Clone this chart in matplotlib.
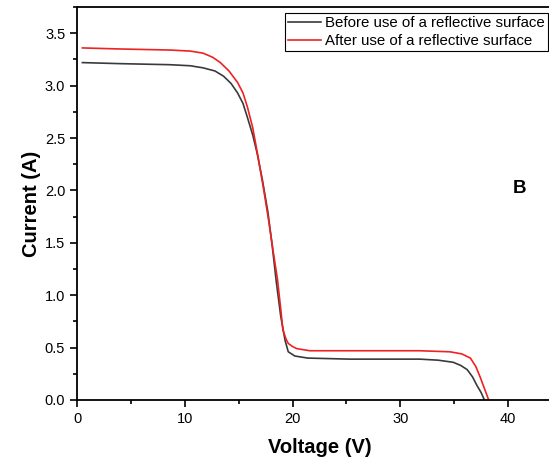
import numpy as np
import matplotlib.pyplot as plt
from matplotlib.ticker import MultipleLocator

plt.rcParams['font.family'] = ['Liberation Sans', 'DejaVu Sans']

# I-V curve before reflective surface
v_before = [0.5, 4, 8.6, 10.5, 11.7, 12.8, 13.6, 14.3, 14.9, 15.4, 15.8, 16.3, 16.7, 17.2, 17.7,
            18.1, 18.5, 18.9, 19.3, 19.6, 20.2, 21.4, 25.3, 30, 31.8, 33.5, 34.9, 35.6, 36.2,
            36.7, 37.1, 37.5, 37.8]
i_before = [3.22, 3.21, 3.20, 3.19, 3.17, 3.14, 3.09, 3.02, 2.93, 2.83, 2.70, 2.53, 2.36, 2.10,
            1.80, 1.48, 1.12, 0.80, 0.57, 0.46, 0.42, 0.40, 0.39, 0.39, 0.39, 0.38, 0.36, 0.33,
            0.29, 0.22, 0.14, 0.07, 0.0]

# I-V curve after reflective surface
v_after = [0.5, 4, 8.6, 10.5, 11.7, 12.6, 13.3, 14.1, 14.9, 15.4, 15.8, 16.3, 16.8, 17.3, 17.8,
           18.2, 18.6, 18.9, 19.1, 19.4, 19.6, 20.0, 20.4, 21.6, 25, 30, 31.8, 34.6, 35.7,
           36.5, 37.0, 37.4, 37.8, 38.2]
i_after = [3.36, 3.35, 3.34, 3.33, 3.31, 3.27, 3.22, 3.14, 3.03, 2.93, 2.80, 2.60, 2.32, 2.02,
           1.70, 1.42, 1.15, 0.87, 0.67, 0.58, 0.54, 0.51, 0.49, 0.47, 0.47, 0.47, 0.47, 0.46,
           0.44, 0.40, 0.32, 0.22, 0.11, 0.0]

fig = plt.figure(figsize=(5.49, 4.65), dpi=100)
ax = fig.add_axes([0.1403, 0.1398, 0.8834, 0.845])

ax.plot(v_before, i_before, color='#3a3a3a', lw=1.2, label='Before use of a reflective surface')
ax.plot(v_after, i_after, color='#ee2222', lw=1.2, label='After use of a reflective surface')

ax.set_xlim(0, 45)
ax.set_ylim(0, 3.75)
ax.xaxis.set_major_locator(MultipleLocator(10))
ax.xaxis.set_minor_locator(MultipleLocator(5))
ax.yaxis.set_major_locator(MultipleLocator(0.5))
ax.yaxis.set_minor_locator(MultipleLocator(0.25))
ax.yaxis.set_major_formatter(plt.FormatStrFormatter('%.1f'))
ax.tick_params(which='both', direction='out', width=1.2, labelsize=10.5)
ax.tick_params(which='major', length=5)
ax.tick_params(which='minor', length=3)
for s in ax.spines.values():
    s.set_linewidth(1.3)

ax.set_xlabel('Voltage (V)', fontsize=14.5, fontweight='bold', labelpad=9)
ax.set_ylabel('Current (A)', fontsize=14.5, fontweight='bold', labelpad=3)

ax.text(0.913, 0.539, 'B', transform=ax.transAxes, fontsize=13.5, fontweight='bold',
        ha='center', va='center')

leg = ax.legend(loc='upper left', bbox_to_anchor=(0.428, 0.985), fontsize=10.8, frameon=True,
                fancybox=False, edgecolor='black', framealpha=1, borderpad=0.2,
                handlelength=2.2, handletextpad=0.3, labelspacing=0.3, borderaxespad=0)
leg.get_frame().set_linewidth(0.8)

fig.savefig('out.png', dpi=100)
